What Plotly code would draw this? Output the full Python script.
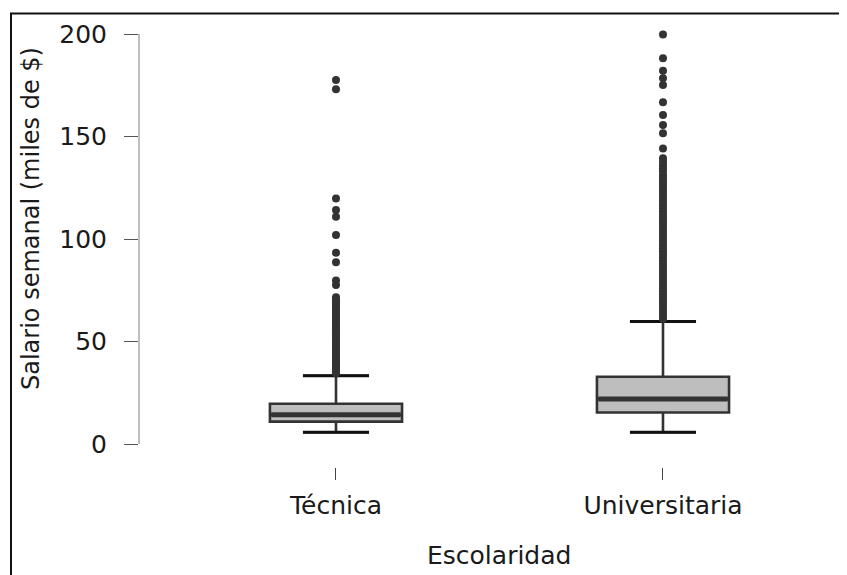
import plotly.graph_objects as go

categories = ["Técnica", "Universitaria"]
q1 = [10.9, 15.4]
median = [14.3, 22.0]
q3 = [19.6, 32.8]
lower_whisker = [5.7, 5.7]
upper_whisker = [33.3, 59.8]

outliers_tecnica = [34.5, 35.5, 36.5, 37.5, 38.5, 39.5, 40.5, 41.5, 42.5, 43.5,
                    44.5, 45.5, 46.5, 47.5, 48.5, 49.5, 50.5, 51.5, 52.5, 53.5,
                    54.5, 55.5, 56.5, 57.5, 58.5, 59.5, 60.5, 61.5, 62.5, 63.5,
                    64.5, 65.5, 66.5, 67.5, 68.5, 69.5, 70.5, 71.6,
                    77.6, 79.7, 88.6, 93.3, 102.0, 110.9, 114.1, 119.8, 173.0, 177.6]
outliers_universitaria = [61.0, 62.5, 64.0, 65.5, 67.0, 68.5, 70.0, 71.5, 73.0, 74.5,
                          76.0, 77.5, 79.0, 80.5, 82.0, 83.5, 85.0, 86.5, 88.0, 89.5,
                          91.0, 92.5, 94.0, 95.5, 97.0, 98.5, 100.0, 101.5, 103.0, 104.5,
                          106.0, 107.5, 109.0, 110.5, 112.0, 113.5, 115.0, 116.5, 118.0, 119.5,
                          121.0, 122.5, 124.0, 125.5, 127.0, 128.5, 130.0, 131.2, 133.0, 134.5,
                          136.0, 137.7, 139.4, 144.2, 151.6, 155.6, 160.5, 166.7, 175.1, 178.4,
                          182.1, 188.2, 199.8]
outliers = [outliers_tecnica, outliers_universitaria]

y_ticks = [0, 50, 100, 150, 200]
x_title = "Escolaridad"
y_title = "Salario semanal (miles de $)"

positions = [1, 2]
box_w = 0.404
dark = "#333333"
font_family = "DejaVu Sans"

fig = go.Figure()
for i, cat in enumerate(categories):
    p = positions[i]
    fig.add_trace(go.Box(
        x=[p], q1=[q1[i]], median=[median[i]], q3=[q3[i]],
        lowerfence=[lower_whisker[i]], upperfence=[upper_whisker[i]],
        width=box_w, whiskerwidth=0.5, boxpoints=False,
        fillcolor="#bebebe", line=dict(color=dark, width=2.6),
        showlegend=False, hoverinfo="skip", name=cat))
    # thick median
    fig.add_trace(go.Scatter(
        x=[p - box_w / 2 + 0.004, p + box_w / 2 - 0.004], y=[median[i], median[i]],
        mode="lines", line=dict(color=dark, width=5), showlegend=False, hoverinfo="skip"))
    # whisker caps (black)
    for yv in (lower_whisker[i], upper_whisker[i]):
        fig.add_trace(go.Scatter(
            x=[p - box_w / 4, p + box_w / 4], y=[yv, yv],
            mode="lines", line=dict(color="#111111", width=3), showlegend=False, hoverinfo="skip"))
    fig.add_trace(go.Scatter(
        x=[p] * len(outliers[i]), y=outliers[i], mode="markers",
        marker=dict(color=dark, size=8, line=dict(width=0)),
        cliponaxis=False, showlegend=False, hoverinfo="skip"))

# page body has an 8px margin: the figure starts at (8, 8) in the window
OFF = 8
W, H = 847 - OFF, 575 - OFF
L, T = 139 - OFF, 34 - OFF
R = 2
B = 575 - 467
pw, ph = W - L - R, H - T - B

def px_x(px):
    return (px - OFF - L) / pw

def px_y(py):
    return (H - B - (py - OFF)) / ph

fig.update_layout(
    width=W, height=H,
    margin=dict(l=L, r=R, t=T, b=B, pad=0),
    paper_bgcolor="white", plot_bgcolor="white",
    font=dict(family=font_family, color="#1a1a1a", size=25),
    xaxis=dict(range=[0.3976, 2.5566], tickvals=positions, ticktext=categories,
               showgrid=False, zeroline=False, showline=False,
               ticks="outside", ticklen=12, tickwidth=1.2, tickcolor="#444444",
               tickfont=dict(size=25, color="#1a1a1a"), ticklabelstandoff=4),
    yaxis=dict(range=[-11.22, 200], tickvals=y_ticks,
               showgrid=False, zeroline=False, showline=False,
               ticks="outside", ticklen=14, tickwidth=1.2, tickcolor="#555555",
               tickfont=dict(size=25, color="#1a1a1a"), ticklabelstandoff=12),
    shapes=[
        dict(type="line", xref="paper", yref="y", x0=0, x1=0, y0=0, y1=200,
             line=dict(color="#aaaaaa", width=1.5)),
        dict(type="rect", xref="paper", yref="paper",
             x0=px_x(11), x1=px_x(900), y0=px_y(13.5), y1=px_y(620),
             line=dict(color="#111111", width=2), fillcolor="rgba(0,0,0,0)"),
    ],
    annotations=[
        dict(text=y_title, xref="paper", yref="paper", x=px_x(31), y=px_y(219),
             textangle=-90, showarrow=False, xanchor="center", yanchor="middle",
             font=dict(size=24, color="#1a1a1a")),
        dict(text=x_title, xref="paper", yref="paper", x=px_x(499), y=px_y(555),
             showarrow=False, xanchor="center", yanchor="middle",
             font=dict(size=25, color="#1a1a1a")),
    ],
)

fig.write_html("out.html")
